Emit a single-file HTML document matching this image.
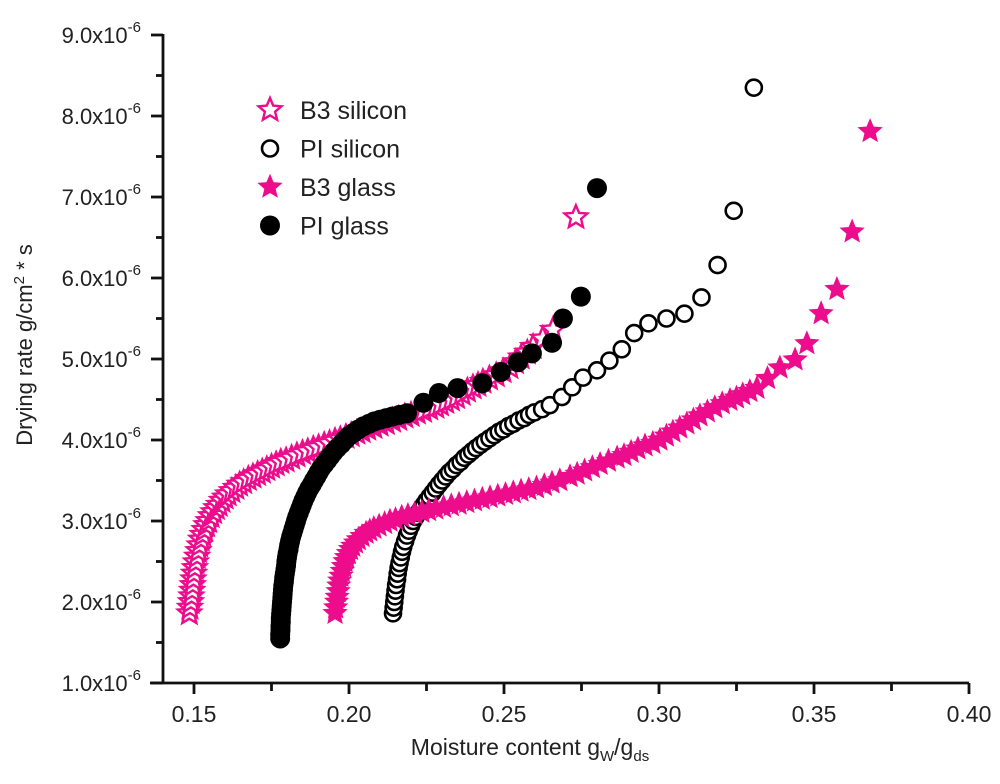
<!DOCTYPE html>
<html><head><meta charset="utf-8"><style>
html,body{margin:0;padding:0;background:#fff}
svg{display:block;font-family:"Liberation Sans",sans-serif}
</style></head><body>
<svg id="chart" width="1000" height="784" viewBox="0 0 1000 784">
<g id="axes"></g>
<g id="marks"></g>
<g id="legend"></g>
<text x="530" y="755" font-size="23" fill="#222" text-anchor="middle">Moisture content g<tspan font-size="15" dy="6">W</tspan><tspan dy="-6">/g</tspan><tspan font-size="15" dy="6">ds</tspan></text>
<text transform="translate(32,345) rotate(-90)" font-size="22" fill="#222" text-anchor="middle">Drying rate g/cm<tspan font-size="15" dy="-8">2</tspan><tspan dy="8"> * s</tspan></text>
</svg>
<script>
const xTicks=[0.15,0.20,0.25,0.30,0.35,0.40];
const xTickLabels=["0.15","0.20","0.25","0.30","0.35","0.40"];
const yTicks=[1,2,3,4,5,6,7,8,9];
const yTickLabels=["1.0x10","2.0x10","3.0x10","4.0x10","5.0x10","6.0x10","7.0x10","8.0x10","9.0x10"];
const seriesNames=["B3 silicon","PI silicon","B3 glass","PI glass"];
const b3SiliconX=[0.1485,0.1487,0.149,0.1492,0.1494,0.1496,0.1498,0.15,0.1503,0.1506,0.151,0.1514,0.1518,0.1523,0.1528,0.1534,0.154,0.1547,0.1555,0.1563,0.1572,0.1581,0.159,0.16,0.161,0.1622,0.1635,0.1647,0.166,0.1675,0.169,0.1705,0.172,0.1735,0.175,0.1765,0.178,0.1797,0.1815,0.1832,0.185,0.1867,0.1885,0.1902,0.192,0.1937,0.1955,0.1972,0.199,0.2007,0.2025,0.2042,0.206,0.208,0.21,0.212,0.214,0.216,0.218,0.22,0.222,0.224,0.226,0.228,0.2295,0.2312,0.233,0.2347,0.2365,0.2382,0.24,0.2416,0.2432,0.2453,0.2475,0.2497,0.2519,0.2537,0.2555,0.2575,0.2594,0.2625,0.2658,0.2732];
const b3SiliconY=[1.86,1.93,2.0,2.07,2.14,2.21,2.28,2.35,2.42,2.49,2.56,2.63,2.7,2.77,2.83,2.89,2.95,3.0,3.06,3.11,3.16,3.2,3.25,3.29,3.33,3.37,3.41,3.45,3.48,3.52,3.55,3.58,3.61,3.64,3.67,3.7,3.73,3.75,3.78,3.81,3.84,3.86,3.89,3.91,3.94,3.96,3.99,4.01,4.04,4.06,4.09,4.11,4.14,4.16,4.19,4.21,4.24,4.26,4.29,4.31,4.34,4.36,4.39,4.41,4.44,4.47,4.5,4.53,4.57,4.61,4.65,4.68,4.72,4.76,4.8,4.85,4.9,4.96,5.02,5.08,5.15,5.25,5.36,6.75];
const piSiliconX=[0.2142,0.2144,0.2146,0.2148,0.215,0.2152,0.2155,0.2157,0.216,0.2163,0.2167,0.2171,0.2175,0.2181,0.2187,0.2193,0.22,0.2207,0.2215,0.2223,0.2232,0.2241,0.225,0.226,0.227,0.228,0.229,0.2301,0.2312,0.2323,0.2335,0.2347,0.236,0.2372,0.2385,0.2397,0.241,0.2424,0.2438,0.2453,0.2468,0.2483,0.2498,0.2514,0.253,0.2547,0.2565,0.2581,0.2598,0.2623,0.2648,0.2687,0.272,0.2755,0.28,0.284,0.288,0.292,0.2966,0.3024,0.3082,0.3137,0.3189,0.3241,0.3306];
const piSiliconY=[1.86,1.93,2.0,2.07,2.14,2.21,2.28,2.35,2.42,2.48,2.55,2.62,2.68,2.75,2.82,2.88,2.94,3.0,3.05,3.1,3.15,3.2,3.25,3.3,3.35,3.4,3.45,3.5,3.55,3.6,3.64,3.69,3.73,3.78,3.82,3.86,3.9,3.94,3.98,4.02,4.06,4.1,4.13,4.17,4.2,4.24,4.27,4.31,4.34,4.38,4.43,4.53,4.65,4.77,4.86,4.98,5.12,5.32,5.44,5.5,5.56,5.76,6.16,6.83,8.35];
const b3GlassX=[0.1955,0.1957,0.196,0.1962,0.1965,0.1967,0.197,0.1974,0.1978,0.1982,0.1987,0.1992,0.1998,0.2005,0.2012,0.2021,0.203,0.2042,0.2055,0.2067,0.208,0.2097,0.2115,0.2132,0.215,0.217,0.219,0.2212,0.2235,0.2257,0.228,0.2305,0.233,0.2355,0.238,0.2405,0.243,0.2455,0.248,0.2505,0.253,0.2555,0.258,0.2605,0.263,0.2655,0.268,0.2713,0.2736,0.276,0.2785,0.281,0.2837,0.2865,0.2887,0.291,0.2932,0.2955,0.298,0.3003,0.3024,0.3045,0.3067,0.309,0.3111,0.3132,0.3156,0.318,0.3204,0.3229,0.325,0.327,0.3293,0.3316,0.335,0.339,0.3439,0.3477,0.3523,0.3574,0.3623,0.3681];
const b3GlassY=[1.86,1.93,2.0,2.06,2.13,2.2,2.26,2.32,2.38,2.44,2.5,2.55,2.6,2.65,2.69,2.73,2.77,2.81,2.85,2.88,2.91,2.94,2.97,3.0,3.02,3.05,3.07,3.09,3.11,3.13,3.15,3.17,3.19,3.21,3.23,3.25,3.27,3.29,3.31,3.33,3.35,3.37,3.39,3.41,3.44,3.47,3.5,3.55,3.58,3.62,3.66,3.7,3.74,3.78,3.81,3.85,3.89,3.93,3.96,4.0,4.05,4.1,4.15,4.2,4.25,4.3,4.35,4.4,4.45,4.49,4.52,4.56,4.6,4.64,4.76,4.89,4.99,5.19,5.56,5.86,6.57,7.81];
const piGlassX=[0.1778,0.1778,0.1779,0.1779,0.178,0.178,0.1781,0.1782,0.1783,0.1784,0.1785,0.1786,0.1787,0.1788,0.179,0.1791,0.1793,0.1795,0.1797,0.1798,0.18,0.1802,0.1805,0.1807,0.181,0.1813,0.1817,0.1821,0.1825,0.1829,0.1833,0.1838,0.1843,0.1848,0.1853,0.1859,0.1865,0.1872,0.188,0.1887,0.1895,0.1902,0.191,0.192,0.193,0.194,0.195,0.1962,0.1975,0.1987,0.2,0.2015,0.203,0.2047,0.2065,0.2082,0.21,0.212,0.214,0.2163,0.2187,0.224,0.229,0.235,0.243,0.249,0.2545,0.259,0.2655,0.269,0.2748,0.28];
const piGlassY=[1.55,1.6,1.65,1.7,1.75,1.8,1.85,1.9,1.95,2.0,2.05,2.1,2.15,2.2,2.25,2.3,2.35,2.4,2.45,2.5,2.55,2.6,2.65,2.7,2.75,2.8,2.85,2.9,2.95,3.0,3.05,3.1,3.15,3.2,3.25,3.3,3.35,3.4,3.45,3.5,3.55,3.6,3.65,3.7,3.75,3.8,3.85,3.9,3.95,4.0,4.05,4.09,4.13,4.17,4.2,4.23,4.25,4.27,4.29,4.31,4.33,4.46,4.58,4.64,4.7,4.84,4.96,5.07,5.2,5.5,5.77,7.11];

const NS="http://www.w3.org/2000/svg";
const X0=163,X1=969,Y0=683,Y1=35,xmin=0.14,xmax=0.40,ymin=1,ymax=9;
function sx(v){return X0+(v-xmin)/(xmax-xmin)*(X1-X0);}
function sy(v){return Y0-(v-ymin)/(ymax-ymin)*(Y0-Y1);}
function mk(tag,attrs,parent){const e=document.createElementNS(NS,tag);for(const k in attrs)e.setAttribute(k,attrs[k]);parent.appendChild(e);return e;}
const axes=document.getElementById('axes'),marks=document.getElementById('marks'),legend=document.getElementById('legend');
let l=mk('line',{x1:150,y1:Y0,x2:X1,y2:Y0,stroke:'#111','stroke-width':2.8},axes);


l=mk('line',{x1:X0,y1:Y1-1,x2:X0,y2:Y0+1,stroke:'#111','stroke-width':2.8},axes);


xTicks.forEach((v,i)=>{
  const t=mk('line',{x1:sx(v),y1:Y0,x2:sx(v),y2:Y0+11,stroke:'#111','stroke-width':2.8},axes);
  
  
  if(i<xTicks.length-1){const m=mk('line',{x1:sx(v+0.025),y1:Y0,x2:sx(v+0.025),y2:Y0+8,stroke:'#111','stroke-width':2.8},axes);
  
  }
  const tx=mk('text',{x:sx(v),y:Y0+39,'font-size':23,fill:'#222','text-anchor':'middle'},axes);
  tx.textContent=xTickLabels[i];
  
  
});
yTicks.forEach((v,i)=>{
  const t=mk('line',{x1:X0-12,y1:sy(v),x2:X0,y2:sy(v),stroke:'#111','stroke-width':2.8},axes);
  
  
  if(i<yTicks.length-1){const m=mk('line',{x1:X0-7,y1:sy(v+0.5),x2:X0,y2:sy(v+0.5),stroke:'#111','stroke-width':2.8},axes);
  
  }
  const tx=mk('text',{x:X0-22,y:sy(v)+8,'font-size':22,fill:'#222','text-anchor':'end'},axes);
  tx.textContent=yTickLabels[i];
  const sp=mk('tspan',{'font-size':15,dy:-11},tx);sp.textContent='-6';
  
  
});
function starPts(cx,cy,R){const r=R*0.45;let p=[];for(let k=0;k<10;k++){const a=-Math.PI/2+k*Math.PI/5;const rr=k%2?r:R;p.push((cx+rr*Math.cos(a)).toFixed(1)+','+(cy+rr*Math.sin(a)).toFixed(1));}return p.join(' ');}
const pink='#ec0c8c';
function drawStar(cx,cy,filled,g){return mk('polygon',{points:starPts(cx,cy,12),fill:filled?pink:'#fff',stroke:pink,'stroke-width':filled?1:2.4},g);}
function drawCircle(cx,cy,filled,g){return filled?mk('circle',{cx:cx,cy:cy,r:10,fill:'#000'},g):mk('circle',{cx:cx,cy:cy,r:8,fill:'#fff',stroke:'#000','stroke-width':2.6},g);}
const series=[
 {xs:b3SiliconX,ys:b3SiliconY,f:drawStar,filled:false,name:'b3-silicon'},
 {xs:piSiliconX,ys:piSiliconY,f:drawCircle,filled:false,name:'pi-silicon'},
 {xs:b3GlassX,ys:b3GlassY,f:drawStar,filled:true,name:'b3-glass'},
 {xs:piGlassX,ys:piGlassY,f:drawCircle,filled:true,name:'pi-glass'}];
series.forEach(s=>{
  const g=mk('g',{},marks);
  
  
  s.xs.forEach((x,i)=>{const e=s.f(sx(x),sy(s.ys[i]),s.filled,g);
    
    });
});
series.forEach((s,i)=>{
  const g=mk('g',{},legend);
  
  
  const cy=110+i*38.5;
  s.f(270,cy,s.filled,g);
  const t=mk('text',{x:300,y:cy+9,'font-size':25,fill:'#222'},g);
  t.textContent=seriesNames[i];
});
</script>
</body></html>
